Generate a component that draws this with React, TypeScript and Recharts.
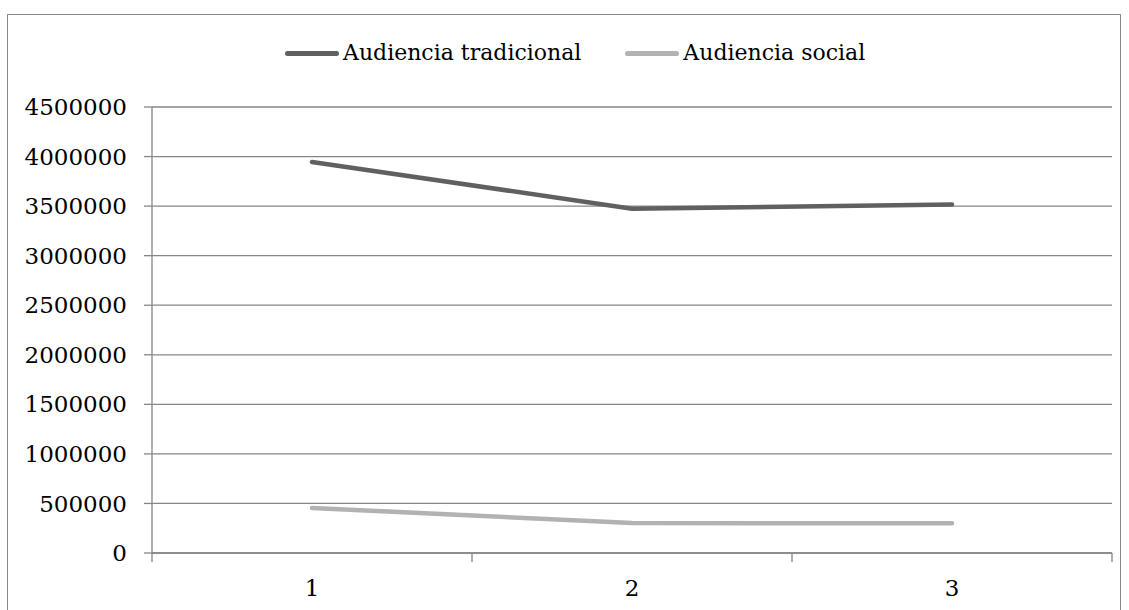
import React from "react";
import { LineChart, Line, XAxis, YAxis, CartesianGrid, Legend } from "recharts";

const categories = ["1", "2", "3"];
const tradicional = [3945000, 3474000, 3517000];
const social = [455000, 302000, 300000];
const yTicks = [0, 500000, 1000000, 1500000, 2000000, 2500000, 3000000, 3500000, 4000000, 4500000];
const seriesNames = ["Audiencia tradicional", "Audiencia social"];
const seriesColors = ["#606060", "#b2b2b2"];

const data = categories.map((c, i) => ({
  x: i + 1,
  label: c,
  tradicional: tradicional[i],
  social: social[i],
}));

const xTickValues = [0.5, 1, 1.5, 2, 2.5, 3, 3.5];

const FONT = "'DejaVu Serif', serif";
const AXIS = "#868686";

const XTick = (props: any) => {
  const { x, y, payload } = props;
  const v = payload.value as number;
  if (Number.isInteger(v)) {
    return (
      <text x={x} y={y + 43} textAnchor="middle" fontSize={23} fontFamily={FONT} fill="#000">
        {categories[v - 1]}
      </text>
    );
  }
  return <line x1={x} y1={y} x2={x} y2={y + 9} stroke={AXIS} strokeWidth={1.3} />;
};

const LegendContent = () => {
  return (
    <div
      style={{
        position: "absolute",
        left: 285,
        top: 40,
        display: "flex",
        alignItems: "center",
        fontFamily: FONT,
        fontSize: 22,
        lineHeight: "26px",
        color: "#000",
        whiteSpace: "nowrap",
      }}
    >
      {seriesNames.map((name, i) => (
        <div key={i} style={{ display: "flex", alignItems: "center", marginRight: 44 }}>
          <div
            style={{
              width: 54,
              height: 5,
              borderRadius: 3,
              background: seriesColors[i],
              marginRight: 4,
            }}
          />
          <span>{name}</span>
        </div>
      ))}
    </div>
  );
};

export default function App() {
  return (
    <div
      style={{
        position: "fixed",
        left: 0,
        top: 0,
        width: 1129,
        height: 610,
        overflow: "hidden",
        background: "#fff",
        fontFamily: FONT,
      }}
    >
      <div
        style={{
          position: "absolute",
          left: 7,
          top: 14,
          width: 1112,
          height: 640,
          border: "1px solid #888",
        }}
      />
      <div style={{ position: "absolute", left: 0, top: 0 }}>
        <LineChart
          width={1129}
          height={610}
          data={data}
          margin={{ top: 107, right: 17, bottom: 17, left: 12 }}
        >
          <CartesianGrid vertical={false} stroke={AXIS} strokeWidth={1.3} />
          <XAxis
            dataKey="x"
            type="number"
            domain={[0.5, 3.5]}
            ticks={xTickValues}
            interval={0}
            tickLine={false}
            tickSize={0}
            tickMargin={0}
            height={40}
            axisLine={{ stroke: AXIS, strokeWidth: 1.3 }}
            tick={<XTick />}
          />
          <YAxis
            type="number"
            domain={[0, 4500000]}
            ticks={yTicks}
            interval={0}
            width={140}
            tickSize={8}
            tickMargin={17}
            axisLine={{ stroke: AXIS, strokeWidth: 1.3 }}
            tickLine={{ stroke: AXIS, strokeWidth: 1.3 }}
            tick={{ fill: "#000", fontSize: 23, fontFamily: FONT }}
          />
          <Legend
            verticalAlign="middle"
            layout="horizontal"
            wrapperStyle={{ position: "absolute", left: 0, top: 0, width: 1129, height: 1 }}
            content={<LegendContent />}
          />
          <Line
            type="linear"
            dataKey="tradicional"
            name={seriesNames[0]}
            stroke={seriesColors[0]}
            strokeWidth={4.5}
            strokeLinecap="round"
            strokeLinejoin="round"
            dot={false}
            activeDot={false}
            isAnimationActive={false}
          />
          <Line
            type="linear"
            dataKey="social"
            name={seriesNames[1]}
            stroke={seriesColors[1]}
            strokeWidth={4.5}
            strokeLinecap="round"
            strokeLinejoin="round"
            dot={false}
            activeDot={false}
            isAnimationActive={false}
          />
        </LineChart>
      </div>
    </div>
  );
}
